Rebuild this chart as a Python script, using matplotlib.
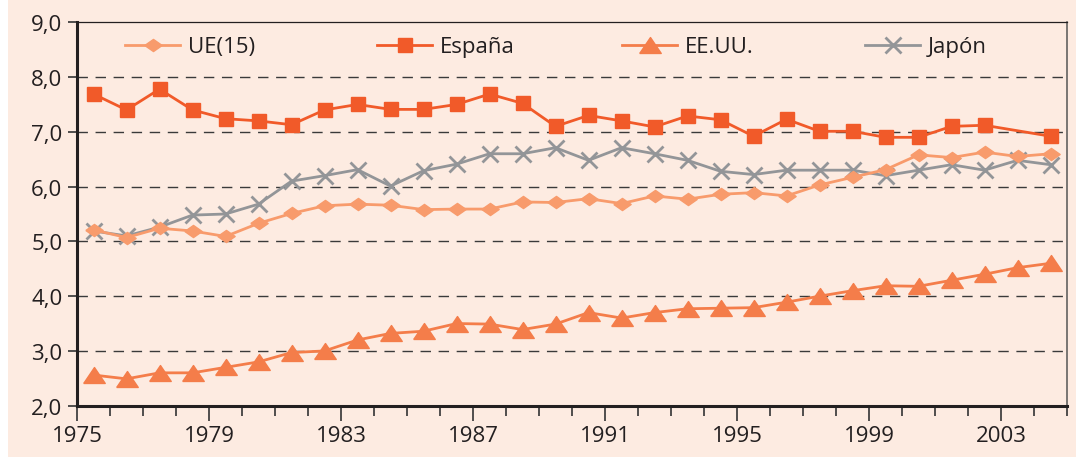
import numpy as np
import matplotlib
matplotlib.use("Agg")
import matplotlib.pyplot as plt
from matplotlib.patches import Rectangle
from matplotlib.legend import Legend
from matplotlib.ticker import FixedLocator, FixedFormatter

# ---------------- data ----------------
years = list(range(1975, 2005))
ue15 = [5.21, 5.07, 5.24, 5.19, 5.09, 5.33, 5.51, 5.65, 5.68, 5.66,
        5.58, 5.59, 5.59, 5.72, 5.71, 5.78, 5.69, 5.83, 5.77, 5.86,
        5.89, 5.83, 6.03, 6.17, 6.31, 6.58, 6.53, 6.63, 6.55, 6.60]
espana = [7.69, 7.40, 7.78, 7.40, 7.24, 7.20, 7.13, 7.40, 7.50, 7.41,
          7.41, 7.50, 7.69, 7.52, 7.10, 7.30, 7.20, 7.09, 7.29, 7.22,
          6.92, 7.23, 7.01, 7.01, 6.90, 6.90, 7.10, 7.12, np.nan, 6.92]
eeuu = [2.56, 2.49, 2.60, 2.60, 2.70, 2.80, 2.97, 3.00, 3.20, 3.32,
        3.36, 3.50, 3.49, 3.39, 3.49, 3.70, 3.60, 3.70, 3.77, 3.78,
        3.79, 3.89, 4.00, 4.10, 4.19, 4.18, 4.29, 4.40, 4.52, 4.60]
japon = [5.19, 5.10, 5.26, 5.48, 5.50, 5.68, 6.10, 6.20, 6.31, 6.01,
         6.29, 6.41, 6.60, 6.60, 6.71, 6.48, 6.71, 6.60, 6.48, 6.28,
         6.22, 6.30, 6.30, 6.30, 6.20, 6.30, 6.40, 6.30, 6.48, 6.40]
series_names = ["UE(15)", "España", "EE.UU.", "Japón"]
x_tick_labels = ["1975", "1979", "1983", "1987", "1991", "1995", "1999", "2003"]
y_ticks = [2, 3, 4, 5, 6, 7, 8, 9]
y_tick_labels = ["2,0", "3,0", "4,0", "5,0", "6,0", "7,0", "8,0", "9,0"]

# ---------------- style ----------------
BG = "#FDEBE1"
TXT = "#231F20"
C_UE = "#F89B6C"
C_ES = "#F15A29"
C_US = "#F47D4A"
C_JP = "#939598"
FS = 16

plt.rcParams["font.family"] = ["Open Sans", "DejaVu Sans"]

fig = plt.figure(figsize=(10.76, 4.60), dpi=100)
fig.patch.set_facecolor("white")
fig.patches.append(Rectangle((8 / 1076, 2 / 460), 1 - 8 / 1076, 1 - 2 / 460,
                             transform=fig.transFigure, facecolor=BG,
                             edgecolor="none", zorder=-5))

ax = fig.add_axes([77 / 1076, 1 - 406.7 / 460, 990 / 1076, 383.4 / 460])
ax.set_zorder(2)
ax.set_facecolor(BG)

x = np.array(years, dtype=float) + 0.5

diamond = [(-1, 0), (0, 0.7), (1, 0), (0, -0.7), (-1, 0)]
triangle = [(-1, -0.74), (1, -0.74), (0, 0.74), (-1, -0.74)]

def plot_series(vals, **kw):
    v = np.array(vals, dtype=float)
    m = ~np.isnan(v)
    return ax.plot(x[m], v[m], **kw)[0]

h_jp = plot_series(japon, color=C_JP, lw=2.0, marker="x", ms=11.5, mew=2.0,
                   zorder=3, label=series_names[3])
h_us = plot_series(eeuu, color=C_US, lw=2.0, marker=triangle, ms=15.5,
                   mec=C_US, mfc=C_US, zorder=4, label=series_names[2])
h_ue = plot_series(ue15, color=C_UE, lw=2.0, marker=diamond, ms=12.5,
                   mec=C_UE, mfc=C_UE, zorder=5, label=series_names[0])
h_es = plot_series(espana, color=C_ES, lw=2.0, marker="s", ms=10.5,
                   mec=C_ES, mfc=C_ES, zorder=6, label=series_names[1])

# axes
ax.set_xlim(1975, 2005)
ax.set_ylim(2, 9)
ax.xaxis.set_major_locator(FixedLocator([int(s) for s in x_tick_labels]))
ax.xaxis.set_major_formatter(FixedFormatter(x_tick_labels))
ax.xaxis.set_minor_locator(FixedLocator(list(range(1975, 2006))))
ax.yaxis.set_major_locator(FixedLocator(y_ticks))
ax.yaxis.set_major_formatter(FixedFormatter(y_tick_labels))

ax.tick_params(axis="y", which="major", direction="out", length=6.5,
               width=1.2, color="#333333", labelsize=FS, labelcolor=TXT, pad=4)
ax.tick_params(axis="x", which="major", direction="out", length=11,
               width=1.2, color="#333333", labelsize=FS, labelcolor=TXT, pad=3)
ax.tick_params(axis="x", which="minor", direction="out", length=7,
               width=1.2, color="#333333")

for s in ["left", "bottom"]:
    ax.spines[s].set_linewidth(2.2)
    ax.spines[s].set_color("#231F20")
ax.spines["top"].set_linewidth(0.9)
ax.spines["top"].set_color("#231F20")
ax.spines["right"].set_linewidth(1.1)
ax.spines["right"].set_color("#555555")

for yv in y_ticks[1:-1]:
    ax.axhline(yv, color="#3a3a3a", lw=1.0, ls=(0, (7.5, 5.5)), zorder=1)

# legend: four evenly spaced entries
leg_pos = [0.0485, 0.303, 0.5505, 0.796]
handles = [h_ue, h_es, h_us, h_jp]
for hx, h, name in zip(leg_pos, handles, series_names):
    lg = Legend(ax, [h], [name], loc="center left", bbox_to_anchor=(hx, 0.936),
                frameon=False, borderpad=0, borderaxespad=0,
                handlelength=2.48, handletextpad=0.36, fontsize=FS,
                labelcolor=TXT)
    ax.add_artist(lg)

fig.savefig("out.png", dpi=100, facecolor=fig.get_facecolor())
